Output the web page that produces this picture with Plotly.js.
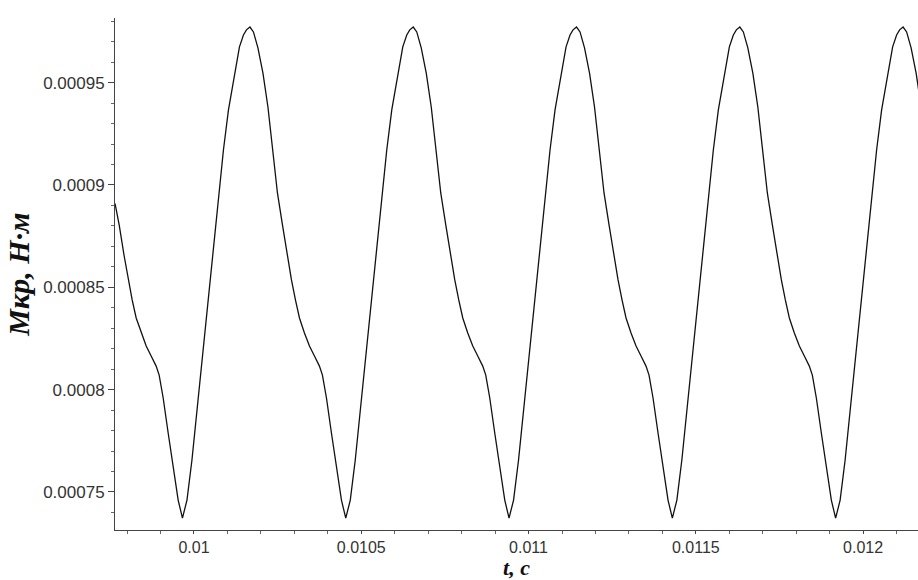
<!DOCTYPE html>
<html>
<head>
<meta charset="utf-8">
<script src="https://cdn.plot.ly/plotly-3.0.1.min.js"></script>
<style>html,body{margin:0;padding:0;background:#fff;}#chart{width:918px;height:580px;}</style>
</head>
<body>
<div id="chart"></div>
<script>
// Time values (s), one array per cycle (each cycle starts at a minimum)
const t0 = [0.0097640,0.0097765,0.0097914,0.0098034,0.0098153,0.0098273,0.0098422,0.0098572,0.0098721,0.0098870,0.0098960,0.0099080,0.0099229,0.0099423,0.0099528];
const m0 = [0.0008910,0.0008805,0.0008653,0.0008536,0.0008438,0.0008350,0.0008277,0.0008213,0.0008164,0.0008115,0.0008071,0.0007959,0.0007788,0.0007558,0.0007460];

const t1 = [0.0099656,0.0099791,0.0099940,0.0100254,0.0100553,0.0100732,0.0100881,0.0101031,0.0101210,0.0101360,0.0101479,0.0101569,0.0101673,0.0101778,0.0101912,0.0102062,0.0102211,0.0102361,0.0102495,0.0102645,0.0102794,0.0102914,0.0103033,0.0103153,0.0103302,0.0103452,0.0103601,0.0103750,0.0103840,0.0103960,0.0104109,0.0104303,0.0104408];
const m1 = [0.0007372,0.0007460,0.0007656,0.0008169,0.0008658,0.0008946,0.0009171,0.0009367,0.0009543,0.0009675,0.0009733,0.0009758,0.0009772,0.0009748,0.0009670,0.0009547,0.0009381,0.0009171,0.0008961,0.0008805,0.0008653,0.0008536,0.0008438,0.0008350,0.0008277,0.0008213,0.0008164,0.0008115,0.0008071,0.0007959,0.0007788,0.0007558,0.0007460];

const t2 = [0.0104537,0.0104672,0.0104821,0.0105135,0.0105434,0.0105613,0.0105762,0.0105912,0.0106091,0.0106241,0.0106360,0.0106450,0.0106554,0.0106659,0.0106793,0.0106943,0.0107092,0.0107242,0.0107376,0.0107526,0.0107675,0.0107795,0.0107914,0.0108034,0.0108183,0.0108333,0.0108482,0.0108631,0.0108721,0.0108841,0.0108990,0.0109184,0.0109289];
const m2 = [0.0007372,0.0007460,0.0007656,0.0008169,0.0008658,0.0008946,0.0009171,0.0009367,0.0009543,0.0009675,0.0009733,0.0009758,0.0009772,0.0009748,0.0009670,0.0009547,0.0009381,0.0009171,0.0008961,0.0008805,0.0008653,0.0008536,0.0008438,0.0008350,0.0008277,0.0008213,0.0008164,0.0008115,0.0008071,0.0007959,0.0007788,0.0007558,0.0007460];

const t3 = [0.0109417,0.0109552,0.0109701,0.0110015,0.0110314,0.0110493,0.0110642,0.0110792,0.0110971,0.0111121,0.0111240,0.0111330,0.0111434,0.0111539,0.0111673,0.0111823,0.0111972,0.0112122,0.0112256,0.0112406,0.0112555,0.0112675,0.0112794,0.0112914,0.0113063,0.0113213,0.0113362,0.0113511,0.0113601,0.0113721,0.0113870,0.0114064,0.0114169];
const m3 = [0.0007372,0.0007460,0.0007656,0.0008169,0.0008658,0.0008946,0.0009171,0.0009367,0.0009543,0.0009675,0.0009733,0.0009758,0.0009772,0.0009748,0.0009670,0.0009547,0.0009381,0.0009171,0.0008961,0.0008805,0.0008653,0.0008536,0.0008438,0.0008350,0.0008277,0.0008213,0.0008164,0.0008115,0.0008071,0.0007959,0.0007788,0.0007558,0.0007460];

const t4 = [0.0114298,0.0114433,0.0114582,0.0114896,0.0115195,0.0115374,0.0115523,0.0115673,0.0115852,0.0116002,0.0116121,0.0116211,0.0116315,0.0116420,0.0116554,0.0116704,0.0116853,0.0117003,0.0117137,0.0117287,0.0117436,0.0117556,0.0117675,0.0117795,0.0117944,0.0118094,0.0118243,0.0118392,0.0118482,0.0118602,0.0118751,0.0118945,0.0119050];
const m4 = [0.0007372,0.0007460,0.0007656,0.0008169,0.0008658,0.0008946,0.0009171,0.0009367,0.0009543,0.0009675,0.0009733,0.0009758,0.0009772,0.0009748,0.0009670,0.0009547,0.0009381,0.0009171,0.0008961,0.0008805,0.0008653,0.0008536,0.0008438,0.0008350,0.0008277,0.0008213,0.0008164,0.0008115,0.0008071,0.0007959,0.0007788,0.0007558,0.0007460];

const t5 = [0.0119178,0.0119313,0.0119462,0.0119776,0.0120075,0.0120254,0.0120403,0.0120553,0.0120732,0.0120882,0.0121001,0.0121091,0.0121195,0.0121300,0.0121434,0.0121584,0.0121733];
const m5 = [0.0007372,0.0007460,0.0007656,0.0008169,0.0008658,0.0008946,0.0009171,0.0009367,0.0009543,0.0009675,0.0009733,0.0009758,0.0009772,0.0009748,0.0009670,0.0009547,0.0009381];

const xTickVals = [0.01, 0.0105, 0.011, 0.0115, 0.012];
const xTickText = ["0.01", "0.0105", "0.011", "0.0115", "0.012"];
const yTickVals = [0.00075, 0.0008, 0.00085, 0.0009, 0.00095];
const yTickText = ["0.00075", "0.0008", "0.00085", "0.0009", "0.00095"];
const xTitle = "t, с";
const yTitle = "Мкр, Н·м";

const tAll = [].concat(t0, t1, t2, t3, t4, t5);
const mAll = [].concat(m0, m1, m2, m3, m4, m5);

const trace = {
  x: tAll, y: mAll, type: 'scatter', mode: 'lines',
  line: {color: '#111', width: 1.3, shape: 'linear'},
  hoverinfo: 'skip', showlegend: false
};

const yTickFont = {family: 'Liberation Sans, Arial, sans-serif', size: 17, color: '#333'};
const xTickFont = {family: 'Liberation Sans, Arial, sans-serif', size: 16, color: '#333'};
const xTitleFont = {family: 'Liberation Serif, Times New Roman, serif', size: 22, color: '#111', weight: 'bold', style: 'italic'};
const yTitleFont = {family: 'Liberation Serif, Times New Roman, serif', size: 30, color: '#111', weight: 'bold', style: 'italic'};

const layout = {
  width: 918, height: 580,
  margin: {l: 115, r: 0, t: 18, b: 50, pad: 0},
  paper_bgcolor: '#fff', plot_bgcolor: '#fff',
  showlegend: false,
  xaxis: {
    range: [0.009764, 0.012164],
    tickmode: 'array', tickvals: xTickVals, ticktext: xTickText,
    ticks: 'outside', ticklen: 3, tickwidth: 1, tickcolor: '#444',
    minor: {tickmode: 'linear', tick0: 0.01, dtick: 0.0001, ticks: 'outside', ticklen: 3, tickcolor: '#666', tickwidth: 1, showgrid: false},
    showline: true, linecolor: '#444', linewidth: 1,
    showgrid: false, zeroline: false,
    tickfont: xTickFont,
    title: {text: xTitle, font: xTitleFont, standoff: 6},
    automargin: false
  },
  yaxis: {
    range: [0.0007314, 0.0009816],
    tickmode: 'array', tickvals: yTickVals, ticktext: yTickText,
    ticks: 'outside', ticklen: 6, tickwidth: 1, tickcolor: '#444',
    minor: {tickmode: 'linear', tick0: 0.00075, dtick: 0.00001, ticks: 'outside', ticklen: 3, tickcolor: '#666', tickwidth: 1, showgrid: false},
    showline: true, linecolor: '#444', linewidth: 1,
    showgrid: false, zeroline: false,
    tickfont: yTickFont,
    title: {text: yTitle, font: yTitleFont, standoff: 4},
    automargin: false
  }
};

Plotly.newPlot('chart', [trace], layout, {staticPlot: true, displayModeBar: false});
</script>
</body>
</html>
